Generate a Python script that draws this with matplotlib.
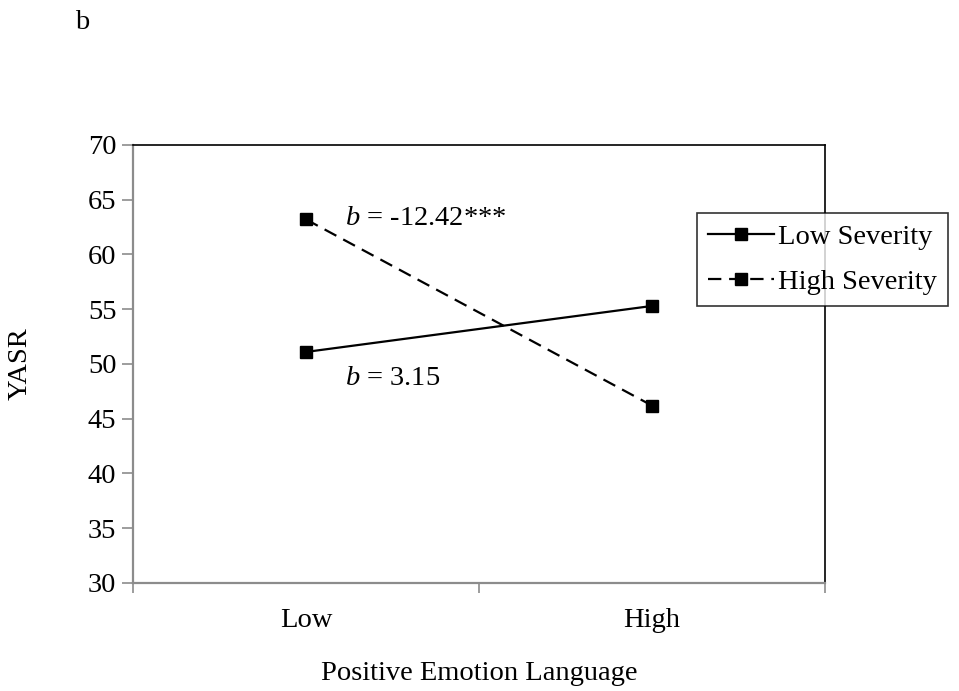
"""Simple slopes plot: YASR by positive emotion language and severity."""

import matplotlib
matplotlib.use("Agg")
import matplotlib.pyplot as plt

plt.rcParams["font.family"] = ["Liberation Serif", "DejaVu Serif"]
plt.rcParams["mathtext.fontset"] = "custom"
plt.rcParams["mathtext.rm"] = "Liberation Serif"
plt.rcParams["mathtext.it"] = "Liberation Serif:italic"

# --- data ---
categories = ["Low", "High"]
low_severity = [51.1, 55.3]
high_severity = [63.2, 46.2]
y_ticks = [30, 35, 40, 45, 50, 55, 60, 65, 70]

GRAY = "#8c8c8c"
FS = 20.5

fig = plt.figure(figsize=(9.59, 6.91), dpi=100)
ax = fig.add_axes([0.1387, 0.1563, 0.7216, 0.6339])

x = list(range(len(categories)))
ax.plot(x, low_severity, color="black", lw=1.6, marker="s", ms=9,
        label="Low Severity")
ax.plot(x, high_severity, color="black", lw=1.6, marker="s", ms=9,
        dashes=(6, 3.5), label="High Severity")

ax.set_xlim(-0.5, 1.5)
ax.set_ylim(30, 70)
ax.set_yticks(y_ticks)
ax.set_xticks([-0.5, 0.5, 1.5])
ax.set_xticklabels([])
ax.set_xticks(x, minor=True)
ax.set_xticklabels(categories, minor=True)
ax.tick_params(axis="x", which="minor", length=0, pad=18, labelsize=FS)
ax.tick_params(axis="x", which="major", direction="out", length=7,
               color=GRAY, width=1.2)
ax.tick_params(axis="y", direction="out", length=8, color=GRAY, width=1.2,
               pad=4, labelsize=FS)

for side in ("left", "bottom"):
    ax.spines[side].set_color(GRAY)
    ax.spines[side].set_linewidth(1.6)
for side in ("top", "right"):
    ax.spines[side].set_color("black")
    ax.spines[side].set_linewidth(1.2)

ax.set_xlabel("Positive Emotion Language", fontsize=FS, labelpad=20)
ax.set_ylabel("YASR", fontsize=FS, labelpad=40)

ax.text(0.113, 63.33, r"$b$ = -12.42***", fontsize=FS, va="center")
ax.text(0.113, 48.7, r"$b$ = 3.15", fontsize=FS, va="center")

leg = ax.legend(loc="upper left", bbox_to_anchor=(0.815, 0.845),
                fontsize=FS, frameon=True, fancybox=False, handlelength=2.3,
                handletextpad=0.15, borderpad=0.4, labelspacing=0.65,
                borderaxespad=0)
leg.get_frame().set_edgecolor("black")
leg.get_frame().set_linewidth(1.2)
leg.set_clip_on(False)

fig.text(0.078, 0.968, "b", fontsize=FS, va="center")

fig.savefig("out.png", dpi=100)
